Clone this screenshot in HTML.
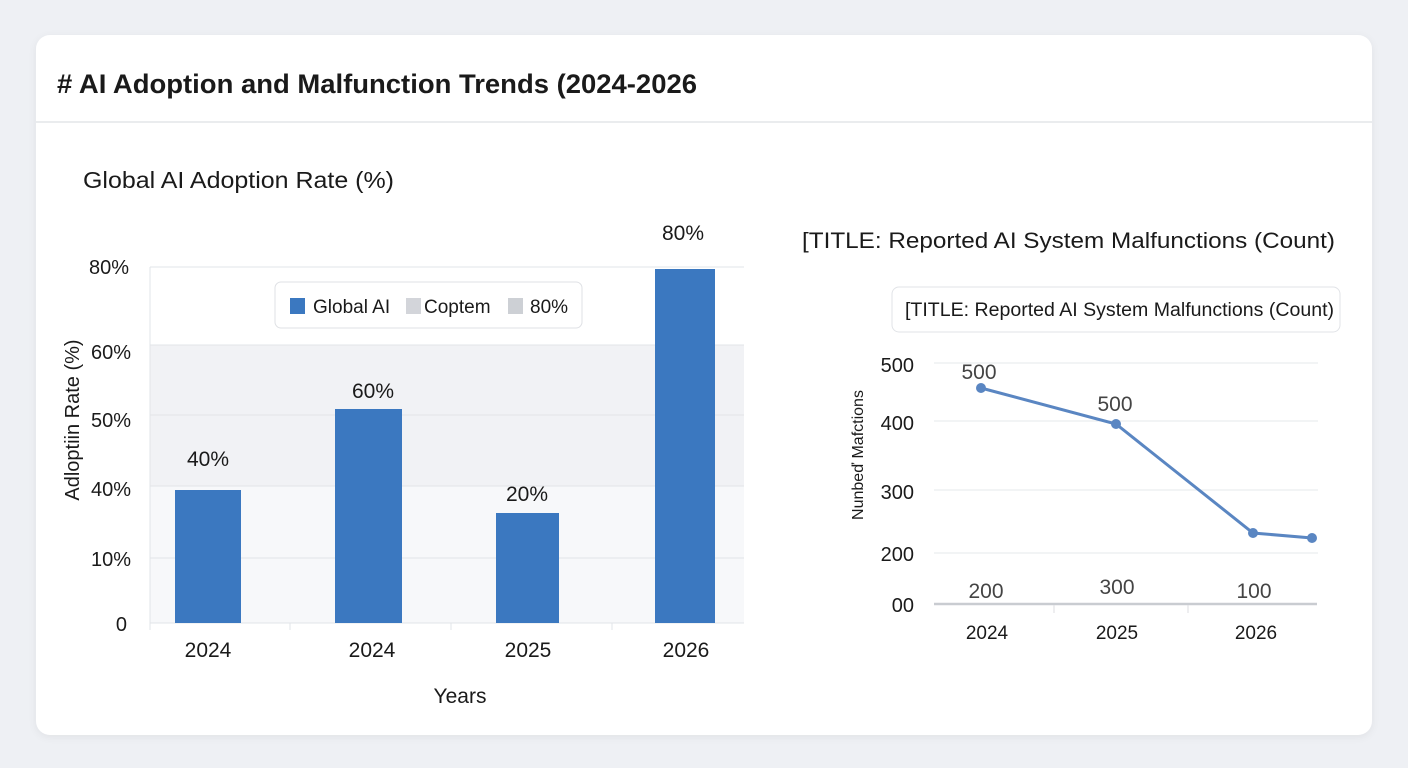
<!DOCTYPE html>
<html><head><meta charset="utf-8"><style>
html,body{margin:0;padding:0;width:1408px;height:768px;background:#eef0f4;overflow:hidden}
svg{display:block;font-family:"Liberation Sans",sans-serif}
</style></head><body>
<svg width="1408" height="768" viewBox="0 0 1408 768">
<defs><filter id="sh" x="-5%" y="-5%" width="110%" height="110%"><feDropShadow dx="0" dy="2" stdDeviation="4" flood-color="#000" flood-opacity="0.06"/></filter></defs>
<rect x="36" y="35" width="1336" height="700" rx="14" fill="#fff" filter="url(#sh)"/>
<text x="57" y="93" font-size="27" font-weight="bold" fill="#1a1a1a" textLength="640" lengthAdjust="spacingAndGlyphs"># AI Adoption and Malfunction Trends (2024-2026</text>
<line x1="36" y1="122" x2="1372" y2="122" stroke="#e3e5e9" stroke-width="1.5"/>
<text x="83" y="188" font-size="23" fill="#1a1a1a" textLength="311" lengthAdjust="spacingAndGlyphs">Global AI Adoption Rate (%)</text>
<!-- left plot -->
<rect x="150" y="345" width="594" height="141" fill="#f1f2f5"/>
<rect x="150" y="486" width="594" height="137" fill="#f7f8fa"/>
<g stroke="#e2e4e8" stroke-width="1">
<line x1="150" y1="267" x2="744" y2="267"/><line x1="150" y1="345" x2="744" y2="345"/>
<line x1="150" y1="415" x2="744" y2="415"/><line x1="150" y1="486" x2="744" y2="486"/>
<line x1="150" y1="558" x2="744" y2="558"/><line x1="150" y1="623" x2="744" y2="623"/>
<line x1="150" y1="267" x2="150" y2="630"/><line x1="290" y1="623" x2="290" y2="630"/>
<line x1="451" y1="623" x2="451" y2="630"/><line x1="612" y1="623" x2="612" y2="630"/>
</g>
<g fill="#3b78c0">
<rect x="175" y="490" width="66" height="133"/><rect x="335" y="409" width="67" height="214"/>
<rect x="496" y="513" width="63" height="110"/><rect x="655" y="269" width="60" height="354"/>
</g>
<g font-size="21" fill="#1a1a1a" text-anchor="middle">
<text x="208" y="466">40%</text><text x="373" y="398">60%</text><text x="527" y="501">20%</text><text x="683" y="240">80%</text>
<text x="208" y="657">2024</text><text x="372" y="657">2024</text><text x="528" y="657">2025</text><text x="686" y="657">2026</text>
<text x="460" y="703">Years</text>
</g>
<g font-size="20" fill="#1a1a1a" text-anchor="end">
<text x="129" y="274">80%</text><text x="131" y="359">60%</text><text x="131" y="427">50%</text>
<text x="131" y="496">40%</text><text x="131" y="566">10%</text><text x="127" y="631">0</text>
</g>
<text transform="translate(79,420) rotate(-90)" font-size="20" fill="#1a1a1a" text-anchor="middle">Adloptiin Rate (%)</text>
<rect x="275" y="282" width="307" height="46" rx="6" fill="#fff" stroke="#dfe1e5"/>
<rect x="290" y="298" width="15" height="16" fill="#3b78c0"/>
<text x="313" y="313" font-size="19" fill="#1a1a1a">Global  AI</text>
<rect x="406" y="298" width="15" height="16" fill="#d3d5da"/>
<text x="424" y="313" font-size="19" fill="#1a1a1a">Ϲoptem</text>
<rect x="508" y="298" width="15" height="16" fill="#cdd0d5"/>
<text x="530" y="313" font-size="19" fill="#1a1a1a">80%</text>
<!-- right -->
<text x="802" y="248" font-size="22" fill="#1a1a1a" textLength="533" lengthAdjust="spacingAndGlyphs">[TITLE: Reported AI System Malfunctions (Count)</text>
<rect x="892" y="287" width="448" height="45" rx="7" fill="#fff" stroke="#e1e3e7"/>
<text x="905" y="316" font-size="19" fill="#1a1a1a" textLength="429" lengthAdjust="spacingAndGlyphs">[TITLE: Reported AI System Malfunctions (Count)</text>
<g stroke="#e6e8eb"><line x1="934" y1="363" x2="1318" y2="363"/><line x1="934" y1="421" x2="1318" y2="421"/>
<line x1="934" y1="490" x2="1318" y2="490"/><line x1="934" y1="553" x2="1318" y2="553"/></g>
<line x1="934" y1="604" x2="1317" y2="604" stroke="#c9ccd1" stroke-width="2.5"/>
<line x1="1054" y1="605" x2="1054" y2="613" stroke="#dcdee2"/><line x1="1188" y1="605" x2="1188" y2="613" stroke="#dcdee2"/>
<g font-size="20" fill="#1a1a1a" text-anchor="end">
<text x="914" y="372">500</text><text x="914" y="430">400</text><text x="914" y="499">300</text>
<text x="914" y="561">200</text><text x="914" y="612">00</text></g>
<text transform="translate(863,455) rotate(-90)" font-size="16" fill="#1a1a1a" text-anchor="middle">Nunbeď Mafctions</text>
<polyline points="981,388 1116,424 1253,533 1312,538" fill="none" stroke="#5a86c2" stroke-width="3"/>
<g fill="#5a86c2"><circle cx="981" cy="388" r="5"/><circle cx="1116" cy="424" r="5"/><circle cx="1253" cy="533" r="5"/><circle cx="1312" cy="538" r="5"/></g>
<g font-size="21" fill="#444" text-anchor="middle">
<text x="979" y="379">500</text><text x="1115" y="411">500</text>
<text x="986" y="598">200</text><text x="1117" y="594">300</text><text x="1254" y="598">100</text></g>
<g font-size="19" fill="#1a1a1a" text-anchor="middle">
<text x="987" y="639">2024</text><text x="1117" y="639">2025</text><text x="1256" y="639">2026</text></g>
</svg>
</body></html>
